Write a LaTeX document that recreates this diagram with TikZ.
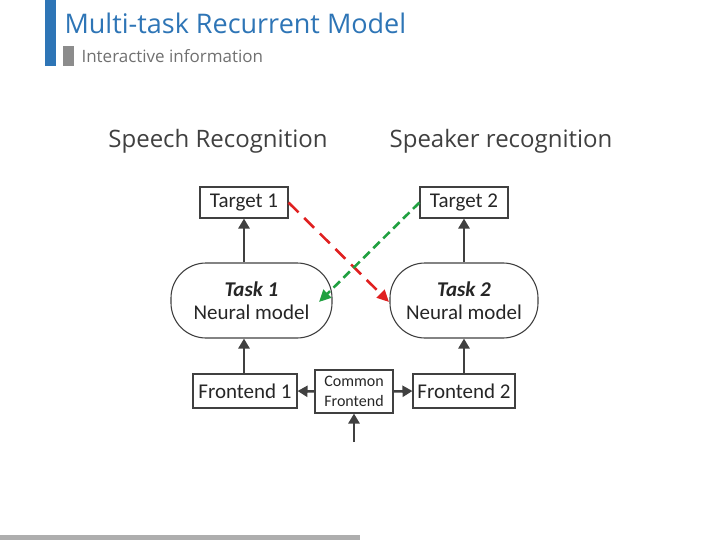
\documentclass[tikz,border=0pt]{standalone}
\usepackage{fontspec}
\setmainfont{Open Sans}
\newfontfamily\boxfont{Carlito}
\usetikzlibrary{arrows.meta}
\definecolor{tblue}{HTML}{2E75B6}
\definecolor{dk}{HTML}{404040}
\definecolor{gr}{HTML}{8C8C8C}
\definecolor{ared}{HTML}{E02020}
\definecolor{agreen}{HTML}{20A040}
\begin{document}
\begin{tikzpicture}[x=1pt,y=-1pt,
  box/.style={draw=dk,line width=1.1pt,inner sep=0pt,font=\boxfont\fontsize{21}{23}\selectfont,text=black!85},
  arr/.style={draw=dk,line width=2.5pt,-{Triangle[length=10pt,width=11pt]}},
  dsh/.style={line width=2.6pt,dash pattern=on 14pt off 8pt,-{Triangle[length=12pt,width=11pt]}}]
\useasboundingbox (0,0) rectangle (720,540);
\fill[tblue] (45,0) rectangle (56,66);
\fill[gr] (63,46) rectangle (74,66);
\fill[gr!70] (0,535) rectangle (360,540);
\node[anchor=west,text=tblue,font=\fontsize{27}{30}\selectfont] (title) at (61,23) {Multi-task Recurrent Model};
\node[anchor=west,text=gr!80!black,font=\fontsize{17}{19}\selectfont] (sub) at (78,56) {Interactive information};
\node[font=\fontsize{24}{27}\selectfont,text=black!75] (sr) at (218,141) {Speech Recognition};
\node[font=\fontsize{24}{27}\selectfont,text=black!75] (spk) at (501,141) {Speaker recognition};
\node[box,minimum width=88pt,minimum height=31pt] (t1) at (244,202.5) {Target 1};
\node[box,minimum width=88pt,minimum height=31pt] (t2) at (464,202.5) {Target 2};
\node[box,rounded corners=35pt,minimum width=161pt,minimum height=75pt,align=center] (k1) at (251.5,300.5) {\textbf{\textit{Task 1}}\\Neural model};
\node[box,rounded corners=35pt,minimum width=148pt,minimum height=75pt,align=center] (k2) at (464,300.5) {\textbf{\textit{Task 2}}\\Neural model};
\node[box,minimum width=104pt,minimum height=34pt] (f1) at (245,391) {Frontend 1};
\node[box,minimum width=102pt,minimum height=34pt] (f2) at (464,391) {Frontend 2};
\node[box,minimum width=78pt,minimum height=43pt,align=center,font=\boxfont\fontsize{16}{20}\selectfont] (cf) at (354,391.5) {Common\\Frontend};
\coordinate (in) at (354,442);
\draw[arr] (in) -- (cf.south);
\draw[arr] (cf.west) -- (f1.east);
\draw[arr] (cf.east) -- (f2.east-|f2.west);
\draw[arr] (f1.north-|244,0) -- (k1.south-|244,0);
\draw[arr] (f2.north) -- (k2.south);
\draw[arr] (k1.north-|244,0) -- (t1.south);
\draw[arr] (k2.north) -- (t2.south);
\draw[dsh,draw=ared,-{Triangle[length=12pt,width=11pt,fill=ared]},ared] (t1.east) -- (389,302);
\draw[dsh,draw=agreen,dash pattern=on 9pt off 5pt,agreen] (t2.west) -- (319,302);
\end{tikzpicture}
\end{document}
